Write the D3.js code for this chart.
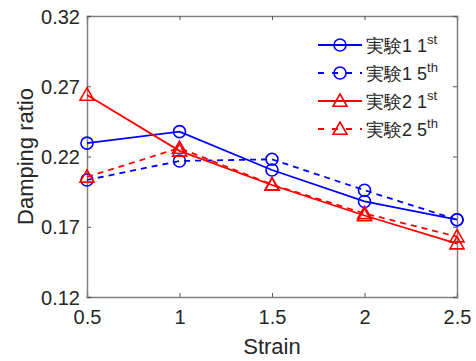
<!DOCTYPE html>
<html>
<head>
<meta charset="utf-8">
<script src="https://cdn.jsdelivr.net/npm/d3@7"></script>
<style>
  body { margin: 0; background: #fff; }
  text { font-family: "Liberation Sans", Arial, sans-serif; }
</style>
</head>
<body>
<svg id="chart" width="476" height="361"></svg>
<script>
// Strain levels and damping ratios per test run
const strain = [0.5, 1.0, 1.5, 2.0, 2.5];
const exp1First = [0.2295, 0.2377, 0.2104, 0.1880, 0.1750];
const exp1Fifth = [0.2033, 0.2168, 0.2180, 0.1960, 0.1750];
const exp2First = [0.2638, 0.2240, 0.1997, 0.1780, 0.1580];
const exp2Fifth = [0.2055, 0.2260, 0.2000, 0.1795, 0.1630];
const xTicks = [0.5, 1, 1.5, 2, 2.5];
const yTicks = [0.12, 0.17, 0.22, 0.27, 0.32];

const series = [
  { name: "実験1 1", sup: "st", values: exp1First, color: "#0000ff", dash: null, marker: "circle" },
  { name: "実験1 5", sup: "th", values: exp1Fifth, color: "#0000ff", dash: "6,5", marker: "circle" },
  { name: "実験2 1", sup: "st", values: exp2First, color: "#ff0000", dash: null, marker: "triangle" },
  { name: "実験2 5", sup: "th", values: exp2Fifth, color: "#ff0000", dash: "6,5", marker: "triangle" }
];

const svg = d3.select("#chart");
const L = 87, R = 457, T = 16, B = 297;
const x = d3.scaleLinear().domain([0.5, 2.5]).range([L, R]);
const y = d3.scaleLinear().domain([0.12, 0.32]).range([B, T]);
const axisColor = "#262626";

// Frame with inward ticks on all four sides
const axBottom = svg.append("g").attr("transform", `translate(0,${B})`)
  .call(d3.axisBottom(x).tickValues(xTicks).tickSize(-4).tickPadding(13).tickFormat(d3.format("")));
const axTop = svg.append("g").attr("transform", `translate(0,${T})`)
  .call(d3.axisTop(x).tickValues(xTicks).tickSize(-4).tickFormat(""));
const axLeft = svg.append("g").attr("transform", `translate(${L},0)`)
  .call(d3.axisLeft(y).tickValues(yTicks).tickSize(-4).tickPadding(7).tickFormat(d3.format(".2f")));
const axRight = svg.append("g").attr("transform", `translate(${R},0)`)
  .call(d3.axisRight(y).tickValues(yTicks).tickSize(-4).tickFormat(""));

[axBottom, axTop, axLeft, axRight].forEach(g => {
  g.select(".domain").attr("stroke", "#808080").attr("stroke-width", 1.5);
  g.selectAll(".tick line").attr("stroke", "#555").attr("stroke-width", 1);
  g.selectAll(".tick text").attr("fill", axisColor).style("font-size", "20px");
});
axLeft.selectAll(".tick text").attr("dy", "0.35em");

// Axis titles
svg.append("text").attr("x", (L + R) / 2).attr("y", 354).attr("text-anchor", "middle")
  .attr("fill", axisColor).style("font-size", "22px").text("Strain");
svg.append("text").attr("transform", `translate(33,${(T + B) / 2}) rotate(-90)`)
  .attr("text-anchor", "middle").attr("fill", axisColor).style("font-size", "22px").text("Damping ratio");

const line = d3.line().x((d, i) => x(strain[i])).y(d => y(d));

function drawMarker(g, kind, cx, cy, color) {
  if (kind === "circle") {
    g.append("circle").attr("cx", cx).attr("cy", cy).attr("r", 6)
      .attr("fill", "none").attr("stroke", color).attr("stroke-width", 1.6);
  } else {
    const s = 7;
    g.append("path")
      .attr("d", `M${cx},${cy - s}L${cx + s},${cy + s * 0.75}L${cx - s},${cy + s * 0.75}Z`)
      .attr("fill", "none").attr("stroke", color).attr("stroke-width", 1.6);
  }
}

series.forEach(s => {
  const g = svg.append("g");
  g.append("path").datum(s.values).attr("d", line)
    .attr("fill", "none").attr("stroke", s.color).attr("stroke-width", 1.8)
    .attr("stroke-dasharray", s.dash);
  s.values.forEach((v, i) => drawMarker(g, s.marker, x(strain[i]), y(v), s.color));
});

// Legend
const legend = svg.append("g");
series.forEach((s, i) => {
  const ly = 45 + i * 28;
  const g = legend.append("g");
  g.append("line").attr("x1", 318).attr("x2", 362).attr("y1", ly).attr("y2", ly)
    .attr("stroke", s.color).attr("stroke-width", 1.8).attr("stroke-dasharray", s.dash ? "6,8" : null);
  drawMarker(g, s.marker, 340, ly, s.color);
  const t = g.append("text").attr("x", 366).attr("y", ly + 7).attr("fill", axisColor)
    .style("font-size", "18px");
  t.append("tspan").text(s.name);
  t.append("tspan").attr("dy", -8).style("font-size", "13px").text(s.sup);
});
</script>
</body>
</html>
